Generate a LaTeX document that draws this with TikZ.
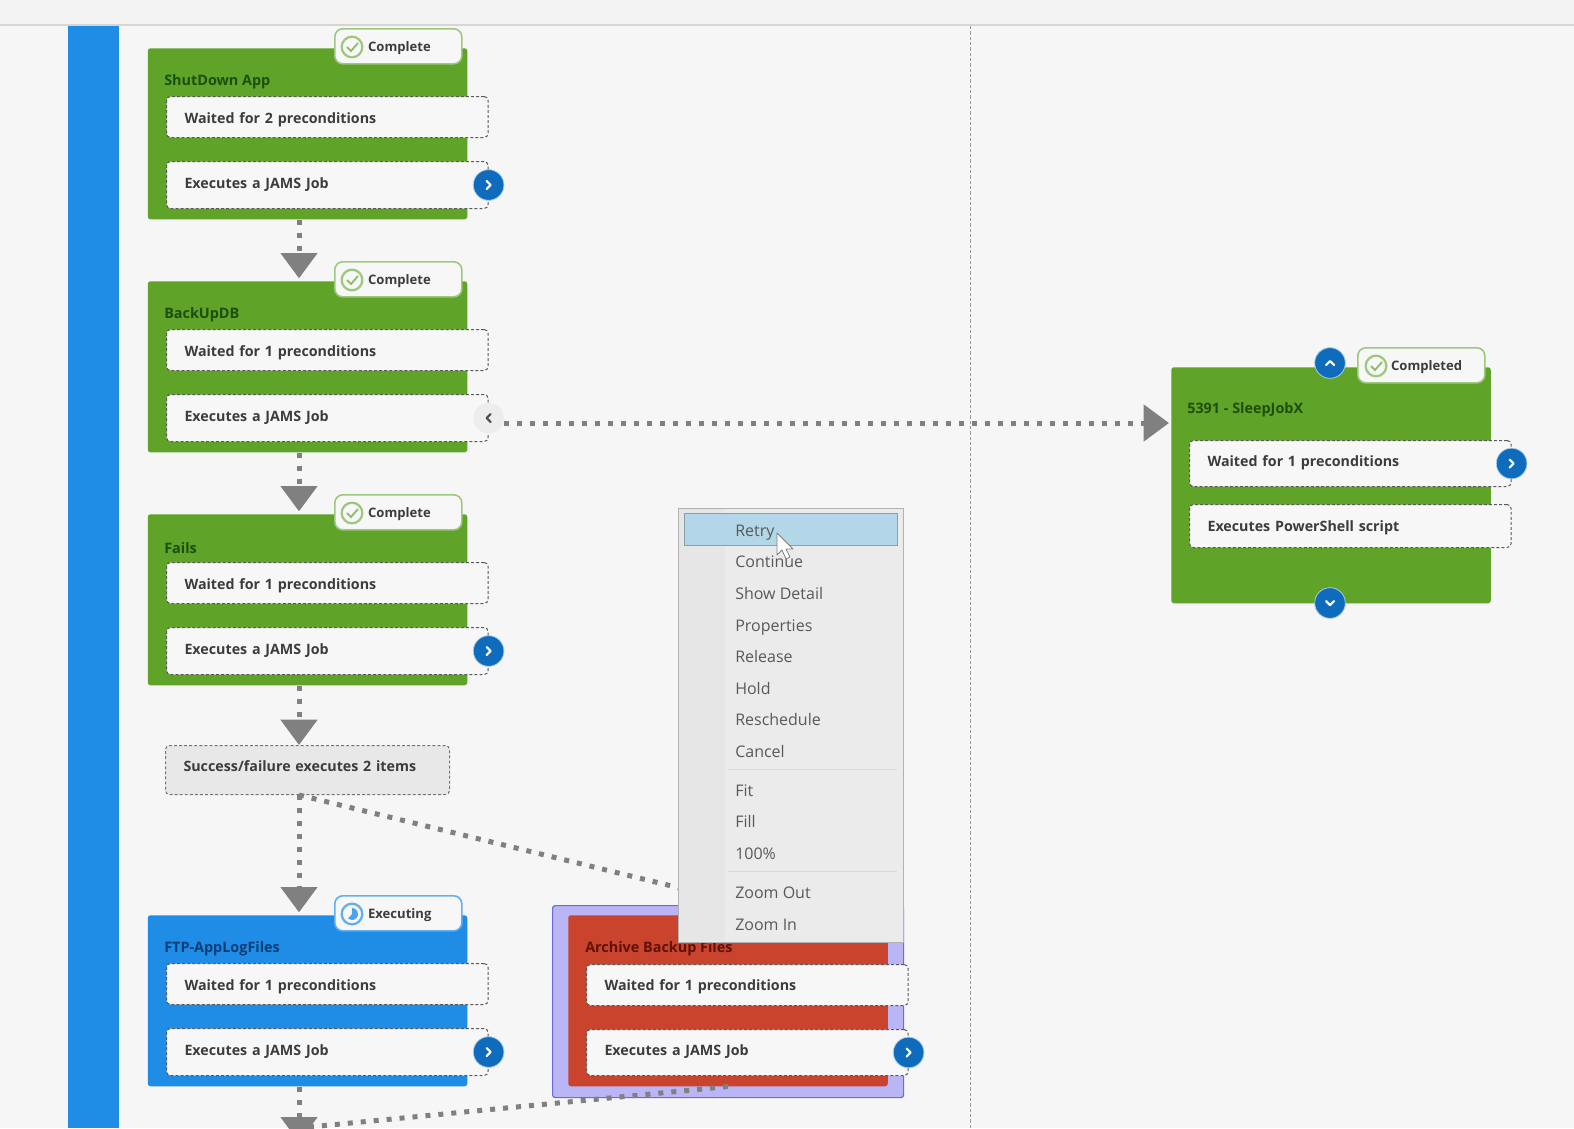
\documentclass[tikz,border=0pt]{standalone}
\usepackage{fontspec}
\setmainfont{Open Sans}
\usetikzlibrary{calc,arrows.meta}
\definecolor{pagegray}{HTML}{F6F6F6}
\definecolor{topgray}{HTML}{F3F3F3}
\definecolor{rulegray}{HTML}{D6D6D6}
\definecolor{barblue}{HTML}{1F8CE6}
\definecolor{jobgreen}{HTML}{5FA329}
\definecolor{titlegreen}{HTML}{1D4F0C}
\definecolor{titleblue}{HTML}{0B3D78}
\definecolor{jobred}{HTML}{C9432D}
\definecolor{titlered}{HTML}{5E1208}
\definecolor{lavender}{HTML}{BAB6F6}
\definecolor{lavenderline}{HTML}{6E68E0}
\definecolor{btnblue}{HTML}{0F6CBD}
\definecolor{flowgray}{HTML}{808080}
\definecolor{rowwhite}{HTML}{F7F7F7}
\definecolor{textgray}{HTML}{3C3C3C}
\definecolor{menugray}{HTML}{EBEBEB}
\definecolor{menuside}{HTML}{E6E6E6}
\definecolor{menuhot}{HTML}{B3D7E8}
\colorlet{statusgreen}{jobgreen!60}
\colorlet{statusblue}{barblue!70}
\newcommand{\pxu}{0.75pt}
\tikzset{
    jobcard/.style={fill=#1, rounded corners=2pt, anchor=north west, minimum width=319.5*\pxu, minimum height=171*\pxu},
    jobtitle/.style={anchor=west, inner sep=0pt, font=\fontsize{10.8}{13}\selectfont\bfseries, text=#1},
    rowbox/.style={draw=black!65, fill=rowwhite, dash pattern=on 2.2pt off 1.6pt, line width=0.75pt, rounded corners=3pt,
        anchor=north west, text width=214.2pt, inner xsep=13.5pt, inner ysep=0pt, align=left, text=textgray,
        font=\fontsize{10.7}{13}\selectfont\bfseries},
    rowdown/.style={rowbox, text height=10.8pt, text depth=1.7pt},
    rowup/.style={rowbox, text height=7.5pt, text depth=2.9pt},
    rowmid/.style={rowbox, text height=9.5pt, text depth=1.9pt},
    statusbox/.style={draw=#1, fill=rowwhite, line width=1.2pt, rounded corners=6pt, anchor=north west, minimum height=35*\pxu,
        text width=45.25pt, inner xsep=25pt, inner ysep=0pt, align=left, text=textgray, text height=9pt, text depth=1.6pt,
        font=\fontsize{9.8}{12}\selectfont\bfseries},
    statusicon/.style={circle, draw=#1, line width=1.7pt, fill=rowwhite, minimum size=15.5pt, inner sep=0pt},
    roundbtn/.style={circle, fill=btnblue, draw=btnblue!35, line width=0.6pt, minimum size=23pt, inner sep=0pt},
    chevron/.style={draw=white, line width=1.6pt, line cap=round, line join=round},
    flow/.style={draw=flowgray, line width=3.75pt, dash pattern=on 3.75pt off 6pt},
    flowarrow/.style={flow, -{Triangle[width=27pt,length=19pt]}, shorten >=2pt},
    menuitem/.style={anchor=west, inner sep=0pt, text=textgray!85, text height=11pt, text depth=2.4pt, font=\fontsize{12}{14}\selectfont},
    x=0.75pt, y=-0.75pt
}
\begin{document}
\begin{tikzpicture}
    \path[use as bounding box, clip] (0,0) rectangle (1574,1128);
    % page
    \fill[pagegray] (0,0) rectangle (1574,1128);
    \fill[topgray] (0,0) rectangle (1574,25);
    \draw[rulegray, line width=1.5pt] (0,25) -- (1574,25);
    \fill[barblue] (67.5,26) rectangle (118.5,1128);
    \draw[black!40, line width=0.75pt, dash pattern=on 2.5pt off 1.5pt] (970,26) -- (970,1128);

    % the cards of the left column
    \foreach \job/\ytop/\jobname/\waited/\jobcol/\titlecol/\jobstate/\statecol in {
        shutdown/48/ShutDown App/2/jobgreen/titlegreen/Complete/statusgreen,
        backup/281/BackUpDB/1/jobgreen/titlegreen/Complete/statusgreen,
        fails/514/Fails/1/jobgreen/titlegreen/Complete/statusgreen,
        logs/915/FTP-AppLogFiles/1/barblue/titleblue/Executing/statusblue} {
        \node[jobcard=\jobcol] (\job-card) at (147.5,\ytop) {};
        \node[jobtitle=\titlecol] (\job-title) at (164,\ytop+34) {\jobname};
        \node[rowdown, minimum height=41*\pxu] (\job-wait) at (166,\ytop+48) {Waited for \waited{} preconditions};
        \node[rowup, minimum height=47*\pxu] (\job-exec) at (166,\ytop+113) {Executes a JAMS Job};
        \node[statusbox=\statecol] (\job-status) at (334,\ytop-20) {\jobstate};
        \node[statusicon=\statecol] (\job-icon) at (352,\ytop-1) {};
    }
    % check marks and the running clock
    \foreach \job in {shutdown,backup,fails} {
        \draw[jobgreen!70, line width=1.4pt] ([shift={(-5,0)}]\job-icon.center) -- ++(4,4) -- ++(7,-8);
    }
    \fill[barblue!80] (logs-icon.center) -- ++(0,-6) arc (-90:130:6) -- cycle;

    % archive job, selected
    \node[fill=lavender, draw=lavenderline, line width=0.9pt, rounded corners=2pt, anchor=north west,
        minimum width=351*\pxu, minimum height=192*\pxu] (archive-frame) at (552,905) {};
    \node[jobcard=jobred] (archive-card) at (568,915) {};
    \node[jobtitle=titlered] (archive-title) at (585,949) {Archive Backup Files};
    \node[rowmid, minimum height=41*\pxu] (archive-wait) at (586,964) {Waited for 1 preconditions};
    \node[rowup, minimum height=46*\pxu] (archive-exec) at (586,1029) {Executes a JAMS Job};

    % job on the right
    \node[jobcard=jobgreen, minimum height=236*\pxu] (sleep-card) at (1171,367) {};
    \node[jobtitle=titlegreen] (sleep-title) at (1187,410) {5391 - SleepJobX};
    \node[rowup, minimum height=46*\pxu] (sleep-wait) at (1189,440) {Waited for 1 preconditions};
    \node[rowmid, minimum height=43*\pxu] (sleep-exec) at (1189,504) {Executes PowerShell script};
    \node[statusbox=statusgreen] (sleep-status) at (1357,347) {Completed};
    \node[statusicon=statusgreen] (sleep-icon) at (1376,366) {};
    \draw[jobgreen!70, line width=1.4pt] ([shift={(-5,0)}]sleep-icon.center) -- ++(4,4) -- ++(7,-8);

    % the gray box between fails and the two next jobs
    \node[rowbox, draw=black!55, fill=black!9, text width=186pt, text height=6.5pt, text depth=4.1pt, minimum height=49*\pxu] (branch) at (165,745) {Success/failure executes 2 items};

    % coordinates
    \coordinate (spine) at (299,0);
    \coordinate (sleep-in) at (1169,423);
    \coordinate (archive-in) at (725,899);
    \coordinate (next-in) at (299,1145);
    \coordinate (next-side) at (299,1128);

    % buttons on the right of the rows
    \foreach \job/\row in {shutdown/exec,fails/exec,logs/exec,archive/exec,sleep/wait} {
        \node[roundbtn] (\job-next) at (\job-\row.east) {};
        \draw[chevron] ([shift={(-2,-4)}]\job-next.center) -- ++(4,4) -- ++(-4,4);
    }
    \node[roundbtn, fill=black!7, draw=none] (backup-next) at (backup-exec.east) {};
    \draw[chevron, draw=black!70] ([shift={(2,-4)}]backup-next.center) -- ++(-4,4) -- ++(4,4);
    \node[roundbtn] (sleep-up) at (1330,363) {};
    \draw[chevron] ([shift={(-4,2)}]sleep-up.center) -- ++(4,-4) -- ++(4,4);
    \node[roundbtn] (sleep-down) at (1330,603) {};
    \draw[chevron] ([shift={(-4,-2)}]sleep-down.center) -- ++(4,4) -- ++(4,-4);

    % connectors
    \draw[flowarrow] (shutdown-card.south -| spine) -- (backup-card.north -| spine);
    \draw[flowarrow] (backup-card.south -| spine) -- (fails-card.north -| spine);
    \draw[flowarrow, shorten >=0pt] (fails-card.south -| spine) -- (branch.north -| spine);
    \draw[flowarrow] (branch.south -| spine) -- (logs-card.north -| spine);
    \draw[flowarrow] (logs-card.south -| spine) -- (next-in);
    \draw[flowarrow, shorten >=0pt] (backup-next.east |- sleep-in) -- (sleep-in);
    \draw[flowarrow, shorten >=0pt] (branch.south -| spine) -- (archive-in);
    \draw[flow] (archive-card.south) -- (next-side);

    % context menu
    \node[fill=menugray, draw=black!30, line width=0.75pt, anchor=north west, minimum width=225*\pxu, minimum height=434*\pxu] (menu) at (678,508) {};
    \fill[menuside] (679,509) rectangle (725,941);
    \node[fill=menuhot, draw=menuhot!75!black, line width=0.75pt, anchor=north west, minimum width=213*\pxu, minimum height=32*\pxu] (menu-hot) at (684,513) {};
    \foreach \y/\entry in {531/Retry,562/Continue,594/Show Detail,626/Properties,657/Release,689/Hold,720/Reschedule,752/Cancel,791/Fit,822/Fill,854/100\%,893/Zoom Out,925/Zoom In} {
        \node[menuitem] (item-\y) at (735,\y) {\entry};
    }
    \draw[black!15, line width=0.75pt] (728,769) -- (897,769);
    \draw[black!15, line width=0.75pt] (728,871) -- (897,871);

    % mouse pointer
    \draw[fill=white, draw=black!50, line width=0.6pt, line join=round] (777,533) -- (777,555) -- (782,550) -- (786,559) -- (790,557) -- (786,549) -- (793,549) -- cycle;
\end{tikzpicture}
\end{document}
